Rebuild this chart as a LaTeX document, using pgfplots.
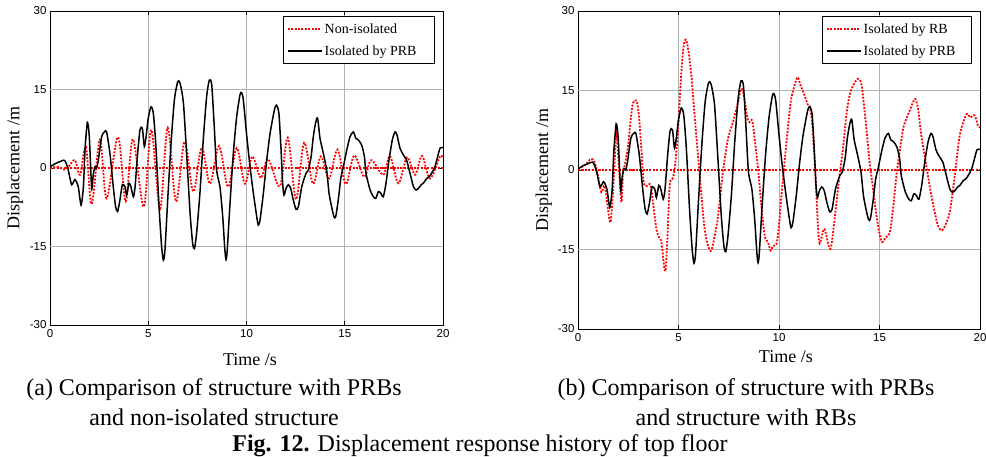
\documentclass[border=0pt]{standalone}
\usepackage{pgfplots}
\pgfplotsset{compat=1.18}
\usepackage{fontspec}
\setmainfont{Liberation Serif}
\newfontfamily\ticksf{Liberation Sans}
\definecolor{mred}{RGB}{255,0,0}
\pgfplotsset{mystyle/.style={
 scale only axis,
 xmin=0,xmax=20,ymin=-30,ymax=30,
 xtick={0,5,10,15,20}, ytick={-30,-15,0,15,30},
 xticklabels={0,5,10,15,20}, yticklabels={-30,-15,0,15,30},
 tick align=inside, major tick length=4pt,
 tick style={black, line width=0.6pt},
 axis line style={line width=0.9pt},
 xmajorgrids=true, ymajorgrids=false,
 extra y ticks={-15,15}, extra y tick labels={},
 extra y tick style={ymajorgrids=true, major tick length=0pt},
 major grid style={gray!60, line width=0.6pt},
 tick label style={font=\ticksf\fontsize{11.5}{13}\selectfont},
 xticklabel style={yshift=-1pt},
 label style={font=\fontsize{18}{21}\selectfont},
 xlabel={Time /s}, ylabel={Displacement /m},
 legend image code/.code={\draw[##1] (0pt,0pt) -- (34pt,0pt);},
 legend style={at={(1,1)}, anchor=north east, xshift=-8pt, yshift=-5pt,
   font=\fontsize{14}{16}\selectfont, draw=black, line width=0.6pt,
   row sep=7pt, inner xsep=4pt, inner ysep=5pt},
 legend cell align=left,
}}
\pgfplotsset{redline/.style={mred, line width=1.8pt, dash pattern=on 1.9pt off 1.5pt, smooth, tension=0.55},
 blackline/.style={black, line width=1.5pt, smooth, tension=0.4}}

\pgfplotstableread{
t v
0 0.2
0.25 0.8
0.5 1.2
0.7 1.5
0.8 1.1
0.93 -0.4
1.1 -3.2
1.27 -2.2
1.44 -3.6
1.58 -7.1
1.7 -3.6
1.78 3.4
1.9 8.7
2.0 6.0
2.12 -3.9
2.2 -1.3
2.29 0.25
2.37 0
2.46 1.5
2.63 6.0
2.77 6.9
2.88 6.9
3.05 2.8
3.22 -3.6
3.34 -7.4
3.44 -8.3
3.56 -6.1
3.68 -3.2
3.82 -3.6
3.9 -5.2
4.02 -2.9
4.12 -3.6
4.24 -5.5
4.33 -3.6
4.46 2.8
4.58 7.3
4.7 7.6
4.8 4.1
4.89 6.0
5.0 9.5
5.14 11.7
5.26 10.4
5.39 4.1
5.55 -7.4
5.68 -15
5.77 -17.6
5.85 -15.7
5.99 -6.1
6.16 4.7
6.33 13
6.5 16.5
6.62 16.2
6.79 12.4
6.96 2.2
7.13 -8.7
7.26 -14.4
7.35 -15.4
7.46 -12.5
7.63 -4.8
7.8 5.4
7.97 13.6
8.11 16.8
8.23 15.9
8.36 7.9
8.48 -0.4
8.65 -3.6
8.79 -9.3
8.9 -15.7
8.96 -17.5
9.02 -15.7
9.16 -6.8
9.33 2.8
9.5 9.8
9.67 14.0
9.75 14.4
9.84 13
10.0 6.6
10.18 0.25
10.35 -4.8
10.52 -9.3
10.6 -10.9
10.69 -9.9
10.86 -4.8
11.03 1.5
11.2 6.6
11.42 11.1
11.53 12
11.65 10.4
11.75 4.1
11.84 -2.9
11.91 -5.2
12.01 -3.9
12.13 -3.2
12.25 -3.9
12.38 -6.1
12.52 -7.9
12.64 -7.4
12.81 -3.6
13.03 -1.0
13.15 -0.4
13.29 2.2
13.4 6
13.52 8.7
13.62 9.5
13.74 5.7
13.91 2.8
14.08 -0.4
14.2 -4.8
14.33 -7.4
14.45 -9.3
14.54 -9.3
14.67 -6.1
14.81 -1.7
14.93 0.25
15.1 3.4
15.27 6
15.44 6.9
15.56 5.7
15.69 5.35
15.86 4.4
16.0 2.2
16.08 -1.0
16.29 -4.2
16.46 -5.5
16.58 -5.8
16.71 -4.5
16.83 -4.8
16.96 -5.5
17.1 -2.9
17.25 1.5
17.42 5.35
17.56 6.9
17.66 6.3
17.81 3.8
17.98 2.5
18.15 1.5
18.32 -1.0
18.5 -3.6
18.63 -4.2
18.75 -3.9
18.89 -3.2
19.0 -2.9
19.17 -2.0
19.29 -1.7
19.42 -1.0
19.59 0.25
19.73 2.2
19.85 3.8
20 3.9
}\prb

\pgfplotstableread{
t v
0 0
0.4 0.2
0.75 -0.3
1.0 0.5
1.27 1.5
1.53 -1.3
1.83 4.0
2.12 -6.9
2.54 5.4
2.88 -5.8
3.46 5.9
3.85 -6.4
4.22 5.5
4.77 -7.4
5.15 7.3
5.6 -7.8
5.99 7.7
6.41 -6.4
6.85 5.0
7.29 -4.5
7.72 3.9
8.14 -3.0
8.6 4.2
9.06 -3.6
9.5 3.8
9.92 -3.0
10.29 2.2
10.73 -1.9
11.1 1.7
11.7 -3.5
12.1 5.8
12.52 -6.0
12.93 4.8
13.38 -3.0
13.78 2.2
14.2 -2.0
14.63 3.5
15.05 -3.1
15.48 2.4
15.99 -1.7
16.35 1.5
16.96 -1.3
17.3 2.3
17.73 -2.9
18.17 2.0
18.58 -1.3
18.93 2.3
19.34 -2.0
19.85 2.2
20 1.8
}\noniso

\pgfplotstableread{
t v
0 0.2
0.33 0.9
0.66 2.1
0.83 1.4
1.0 -1.1
1.16 -4.2
1.33 -3.0
1.49 -7.4
1.61 -9.9
1.71 -6.1
1.82 1.4
1.91 7.0
2.04 0.2
2.16 -6.1
2.24 -0.4
2.32 0.8
2.49 4.6
2.7 12.0
2.9 13.1
3.03 10.3
3.15 4.0
3.27 -2.3
3.43 -3.0
3.6 -2.8
3.73 -6.1
3.9 -11.1
4.03 -12.7
4.15 -13.6
4.26 -17.4
4.35 -19.0
4.44 -13.6
4.56 -3.0
4.69 -1.7
4.81 0.2
4.98 7.7
5.09 15.3
5.22 22.2
5.34 24.6
5.47 23.1
5.64 17.8
5.8 10.3
5.97 2.7
6.14 -4.8
6.3 -11.1
6.47 -14.3
6.63 -15.2
6.8 -12.4
6.97 -8.6
7.21 -0.4
7.46 5.8
7.71 9.0
7.96 12.8
8.12 15.3
8.26 14.0
8.42 9.9
8.54 9.0
8.67 9.3
8.79 5.8
8.96 0.2
9.12 -6.7
9.29 -12.4
9.45 -13.6
9.59 -15.2
9.7 -14.3
9.87 -14.0
9.98 -11.1
10.15 -3.6
10.37 5.2
10.58 12.8
10.75 15.6
10.92 17.5
11.08 15.9
11.28 14.0
11.45 12.1
11.61 10.3
11.78 1.4
11.91 -8.6
12.0 -13.6
12.1 -13.0
12.24 -11.1
12.36 -12.4
12.49 -14.6
12.6 -14.3
12.77 -9.2
12.97 -2.3
13.18 4.0
13.35 10.3
13.51 14.0
13.68 15.9
13.93 17.2
14.1 16.2
14.21 12.8
14.35 7.7
14.51 1.4
14.68 -3.6
14.85 -8.6
15.02 -12.4
15.14 -13.6
15.31 -12.7
15.51 -11.8
15.67 -7.4
15.84 -1.1
16.0 3.3
16.17 7.7
16.33 9.6
16.5 11.2
16.67 12.8
16.78 13.4
16.92 11.5
17.08 6.5
17.25 2.7
17.41 -1.1
17.58 -4.8
17.75 -8.0
17.91 -10.5
18.11 -11.4
18.33 -9.9
18.49 -8.0
18.66 -3.6
18.82 1.4
18.99 6.5
19.19 9.3
19.36 10.6
19.52 9.9
19.73 10.3
19.9 8.4
20 8.0
}\rb

\begin{document}
\begin{tikzpicture}[x=1pt,y=1pt]
\useasboundingbox (0,0) rectangle (986,457);

\begin{axis}[mystyle, width=393pt, height=314pt, at={(50pt,132pt)}, anchor=south west,
  xlabel style={at={(axis description cs:0.509,-0.111)}, anchor=center},
  ylabel style={at={(axis description cs:-0.089,0.5)}, anchor=center}]
\addplot[redline, forget plot] coordinates {(0,0) (20,0)};
\addplot[redline] table[x=t,y=v] {\noniso};
\addlegendentry{\makebox[104pt][l]{Non-isolated}}
\addplot[blackline] table[x=t,y=v] {\prb};
\addlegendentry{\makebox[104pt][l]{Isolated by PRB}}
\end{axis}

\begin{axis}[mystyle, width=402pt, height=318pt, at={(578pt,128pt)}, anchor=south west,
  xlabel style={at={(axis description cs:0.517,-0.088)}, anchor=center},
  ylabel style={at={(axis description cs:-0.085,0.5)}, anchor=center}]
\addplot[redline, forget plot] coordinates {(0,0) (20,0)};
\addplot[redline] table[x=t,y=v] {\rb};
\addlegendentry{\makebox[102pt][l]{Isolated by RB}}
\addplot[blackline] table[x=t,y=v] {\prb};
\addlegendentry{\makebox[102pt][l]{Isolated by PRB}}
\end{axis}

\node[font=\fontsize{24}{28}\selectfont] at (214,67) {(a) Comparison of structure with PRBs};
\node[font=\fontsize{24}{28}\selectfont] at (214,40) {and non-isolated structure};
\node[font=\fontsize{24}{28}\selectfont] at (746,67) {(b) Comparison of structure with PRBs};
\node[font=\fontsize{24}{28}\selectfont] at (746,40) {and structure with RBs};
\node[font=\fontsize{24}{28}\selectfont] at (480,11) {\textbf{Fig. 12.} Displacement response history of top floor};
\end{tikzpicture}
\end{document}
